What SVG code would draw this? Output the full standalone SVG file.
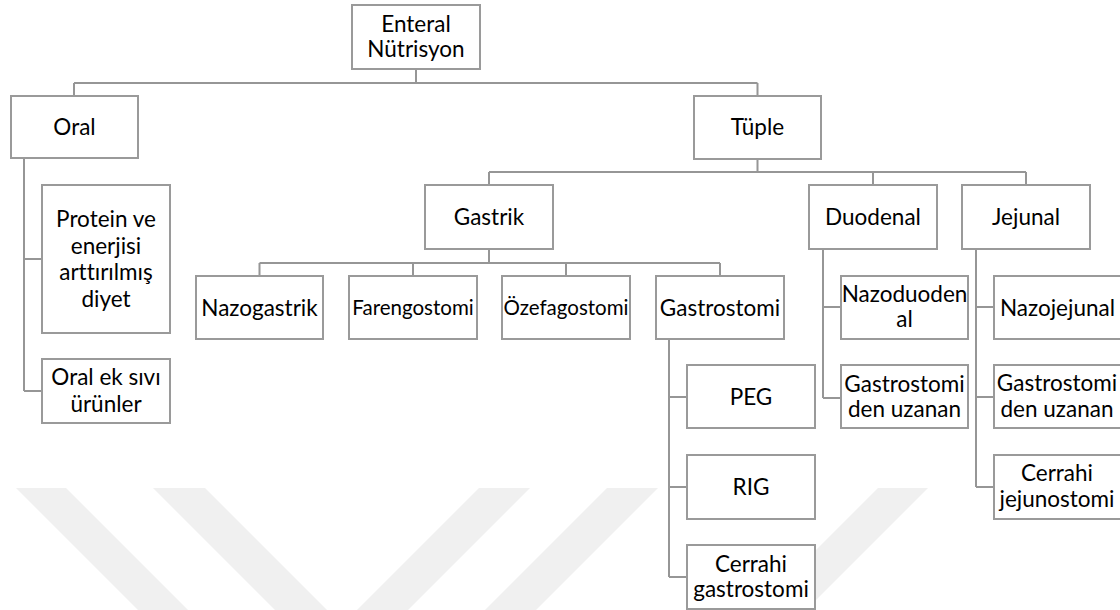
<svg xmlns="http://www.w3.org/2000/svg" width="1120" height="610" viewBox="0 0 1120 610">
<defs>
<style>
.wm{fill:#f0f0f0;stroke:none}
.box{fill:#fff;stroke:#9a9a9a;stroke-width:2}
.ln{fill:none;stroke:#969696;stroke-width:2}
.t{font-family:Lato,"Liberation Sans",sans-serif;font-size:22.5px;fill:#000;text-anchor:middle;font-variant-ligatures:none}
.s1{font-size:20.5px}
.s2{font-size:20.5px}
</style>
</defs>
<rect x="0" y="0" width="1120" height="610" fill="#fff"/>
<g id="watermark">
<polygon class="wm" points="16,488 66,488 188,610 138,610"/>
<polygon class="wm" points="153,488 205,488 327,610 275,610"/>
<polygon class="wm" points="479,488 530,488 408,610 357,610"/>
<polygon class="wm" points="607,488 658,488 536,610 485,610"/>
<polygon class="wm" points="878,488 928,488 806,610 756,610"/>
</g>
<g id="connectors">
<path class="ln" d="M416,69V83M74,83H757.5M74,83V96M757.5,83V96"/>
<path class="ln" d="M24,158V391M24,259H42M24,391H42"/>
<path class="ln" d="M757.5,159V172M489,172H1026M489,172V185M873,172V185M1026,172V185"/>
<path class="ln" d="M489,249V263M259.5,263H720M259.5,263V276M413,263V276M566,263V276M720,263V276"/>
<path class="ln" d="M669,339V577M669,397H687M669,487H687M669,577H687"/>
<path class="ln" d="M823,249V398M823,307H841M823,398H841"/>
<path class="ln" d="M976,249V487M976,307H994M976,397H994M976,487H994"/>
</g>
<g id="n-enteral"><rect class="box" x="352" y="5" width="128" height="64"/><text class="t" x="416" y="32">Enteral</text><text class="t" x="416" y="57">Nütrisyon</text></g>
<g id="n-oral"><rect class="box" x="11" y="96" width="127" height="62"/><text class="t" x="74.5" y="135">Oral</text></g>
<g id="n-tuple"><rect class="box" x="694" y="96" width="127" height="63"/><text class="t" x="757.5" y="135">Tüple</text></g>
<g id="n-protein"><rect class="box" x="42" y="185" width="128" height="148"/><text class="t" x="106" y="227">Protein ve</text><text class="t" x="106" y="253.5">enerjisi</text><text class="t" x="106" y="280">arttırılmış</text><text class="t" x="106" y="307">diyet</text></g>
<g id="n-oralek"><rect class="box" x="42" y="359" width="128" height="64"/><text class="t" x="106" y="385">Oral ek sıvı</text><text class="t" x="106" y="412">ürünler</text></g>
<g id="n-gastrik"><rect class="box" x="425" y="185" width="128" height="64"/><text class="t" x="489" y="225">Gastrik</text></g>
<g id="n-duodenal"><rect class="box" x="809" y="185" width="128" height="64"/><text class="t" x="873" y="225">Duodenal</text></g>
<g id="n-jejunal"><rect class="box" x="962" y="185" width="128" height="64"/><text class="t" x="1026" y="225">Jejunal</text></g>
<g id="n-nazogastrik"><rect class="box" x="196" y="276" width="127" height="63"/><text class="t" x="259.5" y="316">Nazogastrik</text></g>
<g id="n-farengostomi"><rect class="box" x="349" y="276" width="128" height="63"/><text class="t s1" x="413" y="315">Farengostomi</text></g>
<g id="n-ozefagostomi"><rect class="box" x="502" y="276" width="128" height="63"/><text class="t s2" x="566" y="315">Özefagostomi</text></g>
<g id="n-gastrostomi"><rect class="box" x="656" y="276" width="128" height="63"/><text class="t" x="720" y="316">Gastrostomi</text></g>
<g id="n-peg"><rect class="box" x="687" y="365" width="128" height="63"/><text class="t" x="751" y="404.5">PEG</text></g>
<g id="n-rig"><rect class="box" x="687" y="455" width="128" height="64"/><text class="t" x="751" y="494.5">RIG</text></g>
<g id="n-cerrahigastro"><rect class="box" x="687" y="545" width="128" height="64"/><text class="t" x="751" y="571.5">Cerrahi</text><text class="t" x="751" y="597">gastrostomi</text></g>
<g id="n-nazoduodenal"><rect class="box" x="841" y="276" width="127" height="63"/><text class="t" x="904.5" y="301.5">Nazoduoden</text><text class="t" x="904.5" y="327">al</text></g>
<g id="n-gastroduo"><rect class="box" x="841" y="365" width="127" height="63"/><text class="t" x="904.5" y="391.5">Gastrostomi</text><text class="t" x="904.5" y="417">den uzanan</text></g>
<g id="n-nazojejunal"><rect class="box" x="994" y="276" width="128" height="63"/><text class="t" x="1057.5" y="315.5">Nazojejunal</text></g>
<g id="n-gastrojej"><rect class="box" x="994" y="365" width="128" height="63"/><text class="t" x="1057" y="391">Gastrostomi</text><text class="t" x="1057" y="417">den uzanan</text></g>
<g id="n-cerrahijej"><rect class="box" x="994" y="455" width="128" height="64"/><text class="t" x="1057" y="481">Cerrahi</text><text class="t" x="1057" y="507">jejunostomi</text></g>
</svg>
